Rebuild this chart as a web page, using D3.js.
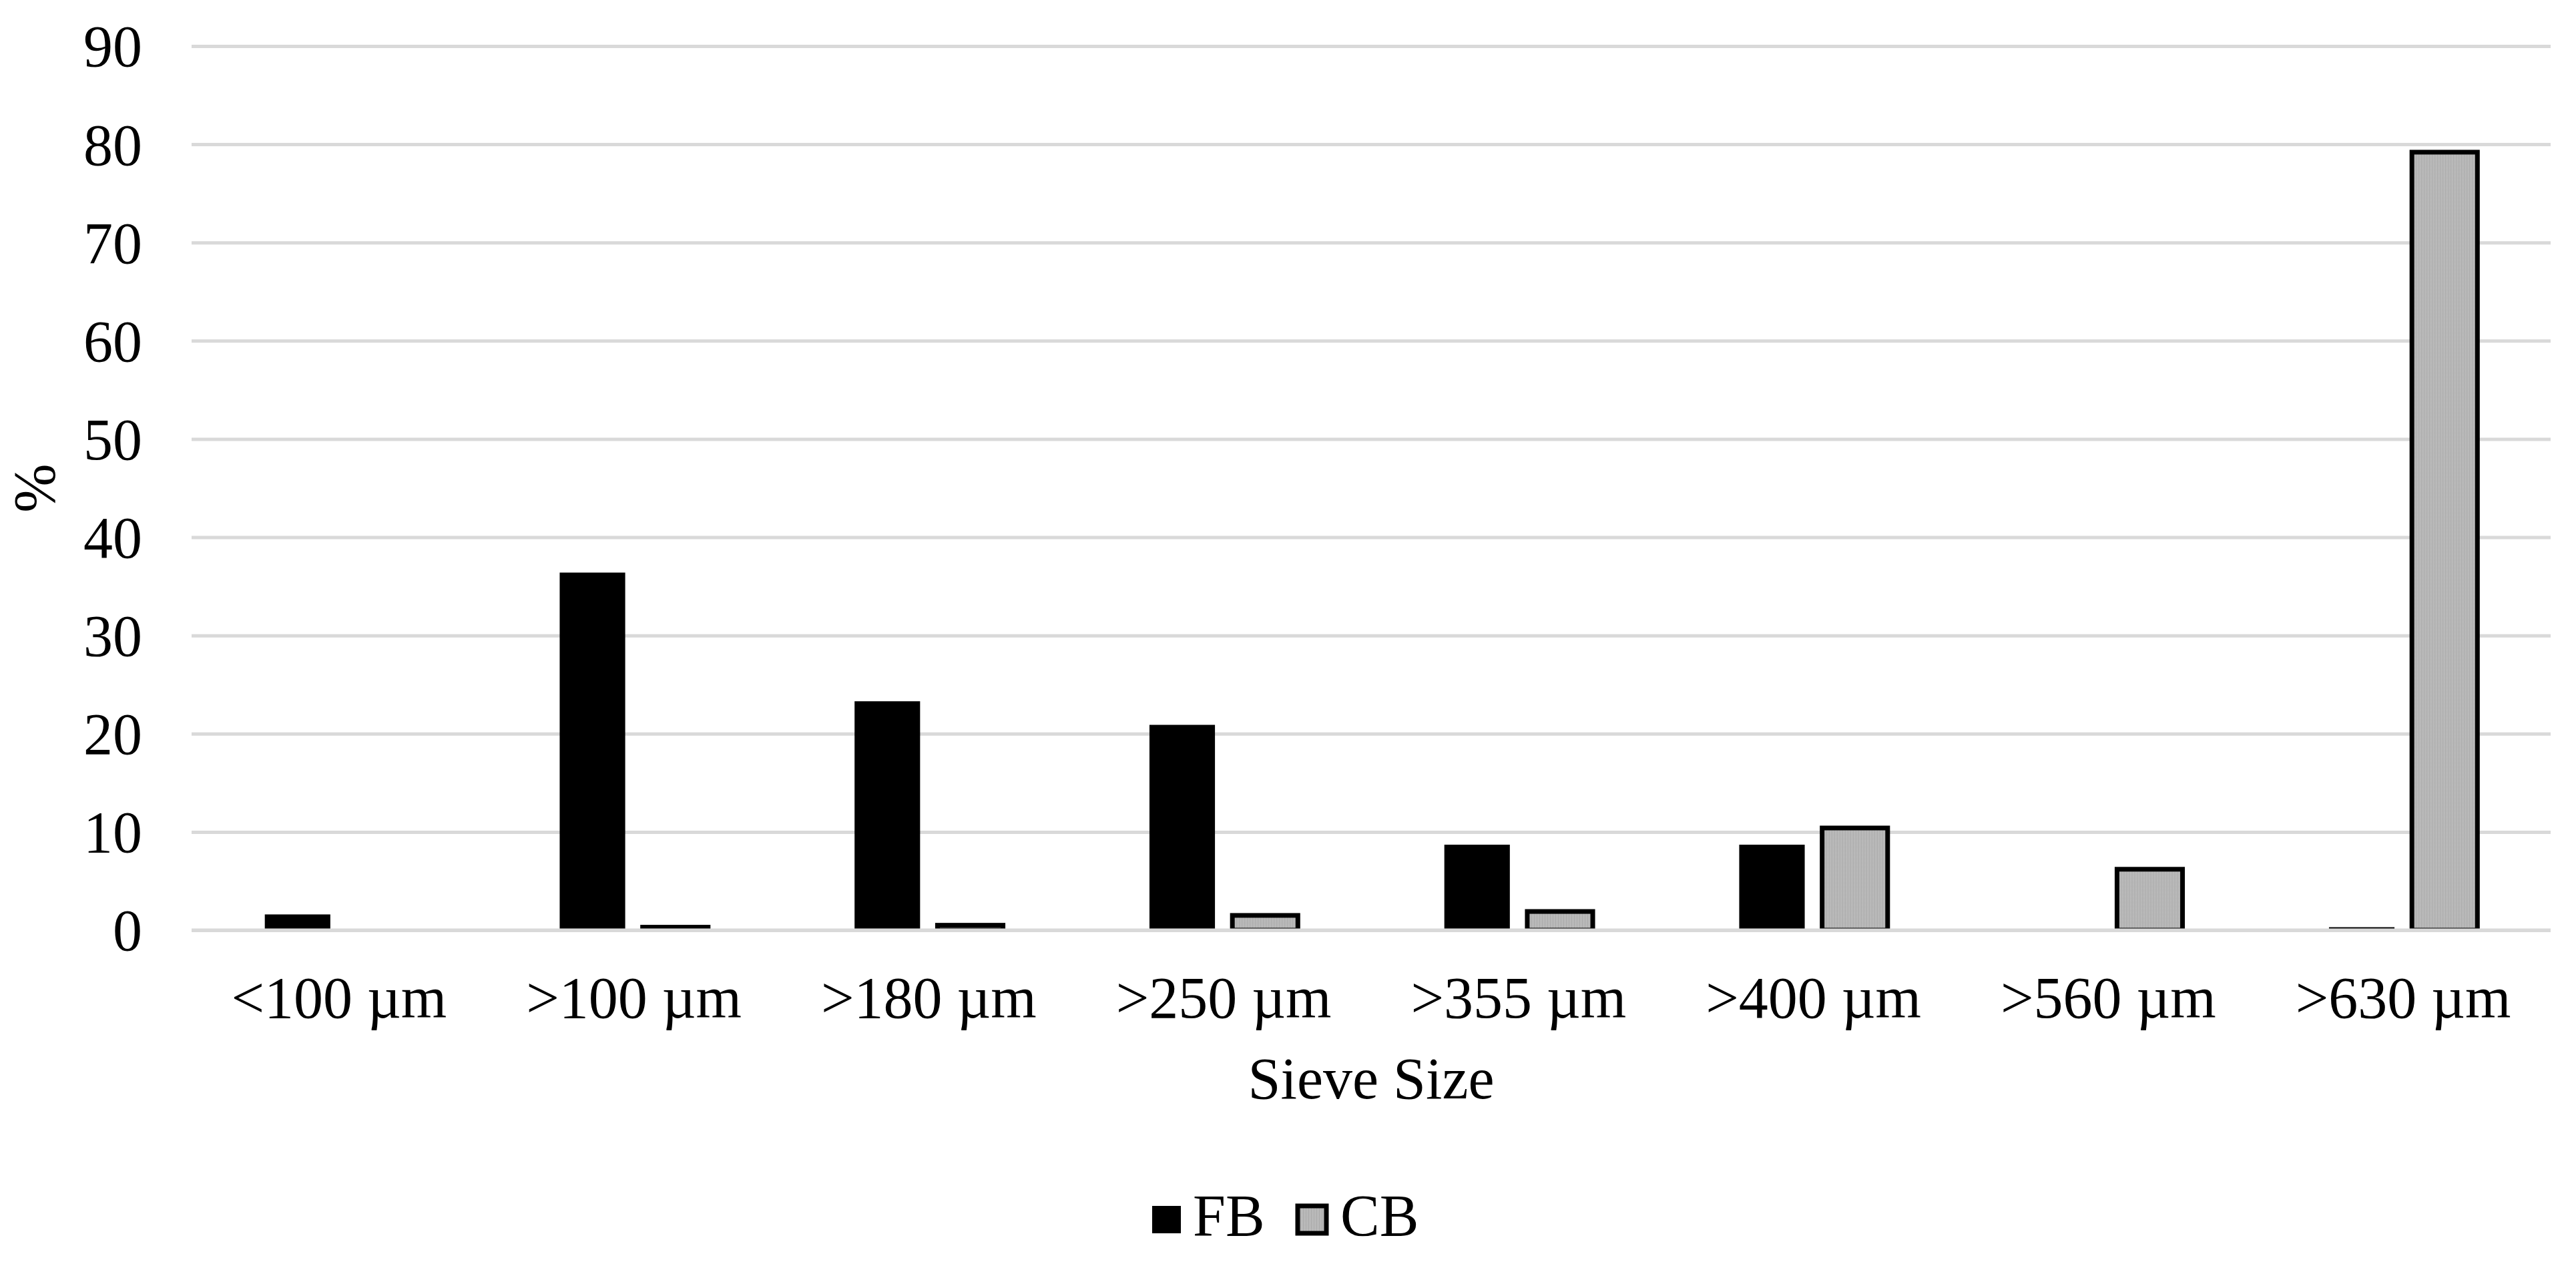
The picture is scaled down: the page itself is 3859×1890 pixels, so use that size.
<!DOCTYPE html>
<html>
<head>
<meta charset="utf-8">
<script src="https://cdn.jsdelivr.net/npm/d3@7"></script>
<style>
  html, body { margin: 0; padding: 0; background: #ffffff; }
  svg { display: block; }
  text { font-family: "Liberation Serif", "Times New Roman", serif; fill: #000; }
</style>
</head>
<body>
<script>
// ---- data ----
const categories = ["<100 µm", ">100 µm", ">180 µm", ">250 µm", ">355 µm", ">400 µm", ">560 µm", ">630 µm"];
const seriesNames = ["FB", "CB"];
const fbValues = [1.6, 36.4, 23.3, 20.9, 8.7, 8.7, 0, 0.3];
const cbValues = [0, 0.3, 0.5, 1.5, 1.9, 10.4, 6.2, 79.2];
const yTicks = [0, 10, 20, 30, 40, 50, 60, 70, 80, 90];
const xTitle = "Sieve Size";
const yTitle = "%";

// ---- layout ----
const W = 3859, H = 1890;
const plotL = 287, plotR = 3821, plotT = 69, plotB = 1393;
const fontSize = 88;

const svg = d3.select("body").append("svg")
  .attr("width", W).attr("height", H)
  .attr("viewBox", `0 0 ${W} ${H}`);

const defs = svg.append("defs");
const pat = defs.append("pattern")
  .attr("id", "cbfill").attr("patternUnits", "userSpaceOnUse")
  .attr("width", 4).attr("height", 4);
pat.append("rect").attr("width", 4).attr("height", 4).attr("fill", "#bebebe");
pat.append("rect").attr("x", 0).attr("y", 0).attr("width", 1).attr("height", 4).attr("fill", "#a6a6a6");
pat.append("rect").attr("x", 2).attr("y", 1).attr("width", 1).attr("height", 1).attr("fill", "#aaaaaa");
pat.append("rect").attr("x", 2).attr("y", 3).attr("width", 1).attr("height", 1).attr("fill", "#aaaaaa");

defs.append("clipPath").attr("id", "plotclip")
  .append("rect").attr("x", plotL - 20).attr("y", 0)
  .attr("width", plotR - plotL + 40).attr("height", plotB);

const x = d3.scaleBand().domain(categories).range([plotL, plotR]).paddingInner(0).paddingOuter(0);
const x1 = d3.scaleBand().domain(seriesNames).range([0, x.bandwidth()])
  .paddingInner(0.21).paddingOuter(0.883);
const y = d3.scaleLinear().domain([0, 90]).range([plotB, plotT]);

// gridlines
const grid = svg.append("g").attr("transform", `translate(${plotL},0)`)
  .call(d3.axisLeft(y).tickValues(yTicks).tickSize(-(plotR - plotL)).tickFormat(""));
grid.select(".domain").remove();
grid.selectAll("line").attr("stroke", "#d9d9d9").attr("stroke-width", 5);

// bars
const rows = categories.map((c, i) => ({ cat: c, FB: fbValues[i], CB: cbValues[i] }));
const barsG = svg.append("g").attr("clip-path", "url(#plotclip)");
const groups = barsG.selectAll("g.cat").data(rows).join("g")
  .attr("class", "cat")
  .attr("transform", d => `translate(${x(d.cat)},0)`);

groups.selectAll("rect")
  .data(d => seriesNames.map(s => ({ s, v: d[s] })).filter(e => e.v > 0))
  .join("rect")
  .attr("x", e => x1(e.s))
  .attr("width", x1.bandwidth())
  .attr("y", e => y(e.v))
  .attr("height", e => y(0) - y(e.v))
  .attr("fill", e => e.s === "FB" ? "#000000" : "url(#cbfill)")
  .attr("stroke", e => e.s === "FB" ? "none" : "#000000")
  .attr("stroke-width", e => e.s === "FB" ? 0 : 7);

// zero line on top
svg.append("line")
  .attr("x1", plotL).attr("x2", plotR)
  .attr("y1", y(0)).attr("y2", y(0))
  .attr("stroke", "#d9d9d9").attr("stroke-width", 5);

// y axis labels
const yAxis = svg.append("g").attr("transform", `translate(${plotL},0)`)
  .call(d3.axisLeft(y).tickValues(yTicks).tickSize(0).tickPadding(74));
yAxis.select(".domain").remove();
yAxis.selectAll("text")
  .style("font-family", '"Liberation Serif", "Times New Roman", serif')
  .style("font-size", fontSize + "px").attr("fill", "#000").attr("dy", "0.34em");

// x axis labels
const xAxis = svg.append("g").attr("transform", `translate(0,${plotB})`)
  .call(d3.axisBottom(x).tickSize(0));
xAxis.select(".domain").remove();
xAxis.selectAll("text")
  .style("font-family", '"Liberation Serif", "Times New Roman", serif')
  .style("font-size", fontSize + "px").attr("fill", "#000")
  .attr("dy", null).attr("y", 131);

// axis titles
svg.append("text")
  .attr("x", (plotL + plotR) / 2).attr("y", 1645)
  .attr("text-anchor", "middle")
  .style("font-size", fontSize + "px")
  .text(xTitle);

svg.append("text")
  .attr("transform", `translate(81,${(plotT + plotB) / 2}) rotate(-90)`)
  .attr("text-anchor", "middle")
  .style("font-size", fontSize + "px")
  .text(yTitle);

// legend
const legend = svg.append("g");
const legendItems = [
  { name: "FB", fill: "#000000", stroke: "none", sw: 0, rx: 1726, tx: 1787 },
  { name: "CB", fill: "url(#cbfill)", stroke: "#000000", sw: 7, rx: 1944, tx: 2008 }
];
legendItems.forEach(it => {
  legend.append("rect")
    .attr("x", it.rx).attr("y", 1806)
    .attr("width", 43).attr("height", 41)
    .attr("fill", it.fill).attr("stroke", it.stroke).attr("stroke-width", it.sw);
  legend.append("text")
    .attr("x", it.tx).attr("y", 1850)
    .style("font-size", fontSize + "px")
    .text(it.name);
});
</script>
</body>
</html>
